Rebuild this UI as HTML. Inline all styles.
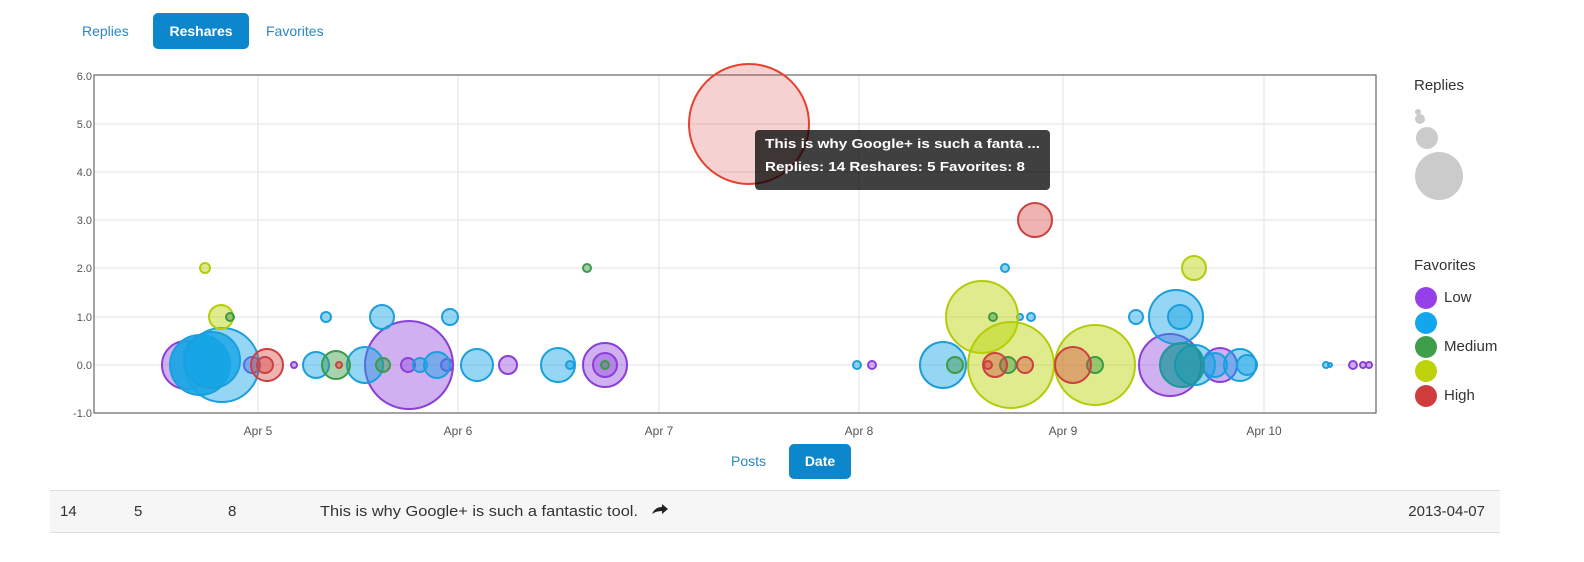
<!DOCTYPE html>
<html><head><meta charset="utf-8"><style>
html,body{margin:0;padding:0;background:#fff;width:1584px;height:562px;overflow:hidden}
svg{display:block;font-family:"Liberation Sans",Arial,sans-serif}
</style></head><body>
<svg width="1584" height="562" viewBox="0 0 1584 562" xmlns="http://www.w3.org/2000/svg">
<text x="82" y="36" font-size="14" fill="#2a86c4">Replies</text>
<rect x="153" y="13" width="96" height="36" rx="5" fill="#0d87cc"/>
<text x="201" y="36" font-size="14" font-weight="bold" fill="#fff" text-anchor="middle">Reshares</text>
<text x="266" y="36" font-size="14" fill="#2a86c4">Favorites</text>
<g stroke="#e2e2e2" stroke-width="1">
<line x1="94" y1="124" x2="1376" y2="124"/><line x1="94" y1="172" x2="1376" y2="172"/>
<line x1="94" y1="220" x2="1376" y2="220"/><line x1="94" y1="268" x2="1376" y2="268"/>
<line x1="94" y1="317" x2="1376" y2="317"/><line x1="94" y1="365" x2="1376" y2="365"/>
<line x1="258" y1="75" x2="258" y2="413"/><line x1="458" y1="75" x2="458" y2="413"/>
<line x1="659" y1="75" x2="659" y2="413"/><line x1="859" y1="75" x2="859" y2="413"/>
<line x1="1063" y1="75" x2="1063" y2="413"/><line x1="1264" y1="75" x2="1264" y2="413"/>
</g>
<rect x="94" y="75" width="1282" height="338" fill="none" stroke="#666" stroke-width="1.2"/>
<g font-size="11" fill="#555" text-anchor="end">
<text x="92" y="80">6.0</text><text x="92" y="128">5.0</text><text x="92" y="176">4.0</text>
<text x="92" y="224">3.0</text><text x="92" y="272">2.0</text><text x="92" y="321">1.0</text>
<text x="92" y="369">0.0</text><text x="92" y="417">-1.0</text>
</g>
<g font-size="12" fill="#555" text-anchor="middle">
<text x="258" y="435">Apr 5</text><text x="458" y="435">Apr 6</text><text x="659" y="435">Apr 7</text>
<text x="859" y="435">Apr 8</text><text x="1063" y="435">Apr 9</text><text x="1264" y="435">Apr 10</text>
</g>
<g stroke-width="2">
<g fill="rgba(150,80,225,0.45)" stroke="#8a3fd8">
<circle cx="186" cy="365" r="24"/><circle cx="252" cy="365" r="8"/><circle cx="294" cy="365" r="3"/>
<circle cx="409" cy="365" r="44"/><circle cx="408" cy="365" r="7"/><circle cx="447" cy="365" r="6"/>
<circle cx="508" cy="365" r="9"/><circle cx="605" cy="365" r="22"/><circle cx="605" cy="365" r="12"/>
<circle cx="872" cy="365" r="4"/><circle cx="1170" cy="365" r="31"/><circle cx="1220" cy="365" r="17"/>
<circle cx="1353" cy="365" r="4"/><circle cx="1363" cy="365" r="3"/><circle cx="1369" cy="365" r="3"/>
</g>
<g fill="rgba(20,165,230,0.45)" stroke="#1a9fdc">
<circle cx="222" cy="365" r="37"/><circle cx="200" cy="365" r="30" fill="rgba(20,165,230,0.9)"/>
<circle cx="212" cy="360" r="28" fill="rgba(20,165,230,0.8)"/>
<circle cx="316" cy="365" r="13"/><circle cx="326" cy="317" r="5"/><circle cx="365" cy="365" r="18"/>
<circle cx="382" cy="317" r="12"/><circle cx="420" cy="365" r="7"/><circle cx="437" cy="365" r="13"/>
<circle cx="450" cy="317" r="8"/><circle cx="477" cy="365" r="16"/><circle cx="558" cy="365" r="17"/>
<circle cx="570" cy="365" r="4"/><circle cx="857" cy="365" r="4"/><circle cx="943" cy="365" r="23"/>
<circle cx="1005" cy="268" r="4"/><circle cx="1020" cy="317" r="3"/><circle cx="1031" cy="317" r="4"/>
<circle cx="1136" cy="317" r="7"/><circle cx="1176" cy="317" r="27"/><circle cx="1180" cy="317" r="12"/>
<circle cx="1195" cy="365" r="20"/><circle cx="1215" cy="365" r="12"/><circle cx="1240" cy="365" r="16"/>
<circle cx="1247" cy="365" r="10"/><circle cx="1326" cy="365" r="3"/><circle cx="1330" cy="365" r="2"/>
</g>
<g fill="rgba(185,210,0,0.45)" stroke="#b3cc0a">
<circle cx="205" cy="268" r="5"/><circle cx="221" cy="317" r="12"/>
<circle cx="982" cy="317" r="36"/><circle cx="1011" cy="365" r="43"/><circle cx="1095" cy="365" r="40"/>
<circle cx="1194" cy="268" r="12"/>
</g>
<g fill="rgba(60,155,70,0.45)" stroke="#3c9a48">
<circle cx="230" cy="317" r="4"/><circle cx="336" cy="365" r="14"/><circle cx="383" cy="365" r="7"/>
<circle cx="587" cy="268" r="4"/><circle cx="605" cy="365" r="4"/><circle cx="955" cy="365" r="8"/>
<circle cx="993" cy="317" r="4"/><circle cx="1008" cy="365" r="8"/><circle cx="1095" cy="365" r="8"/>
<circle cx="1182" cy="365" r="22" fill="rgba(20,150,150,0.7)" stroke="#1b9a9a"/>
</g>
<g fill="rgba(215,65,60,0.4)" stroke="#cc4040">
<circle cx="267" cy="365" r="16"/><circle cx="265" cy="365" r="8"/><circle cx="339" cy="365" r="3"/>
<circle cx="995" cy="365" r="12"/><circle cx="1025" cy="365" r="8"/><circle cx="1073" cy="365" r="18"/>
<circle cx="1035" cy="220" r="17"/><circle cx="988" cy="365" r="4"/>
</g>
<circle cx="749" cy="124" r="60" fill="rgba(215,70,70,0.25)" stroke="#e8402e" stroke-width="2"/>
</g>
<rect x="755" y="130" width="295" height="60" rx="4" fill="rgba(0,0,0,0.75)"/>
<text x="765" y="148" font-size="13" font-weight="bold" fill="#fff" textLength="275" lengthAdjust="spacingAndGlyphs">This is why Google+ is such a fanta ...</text>
<text x="765" y="171" font-size="13" font-weight="bold" fill="#fff" textLength="260" lengthAdjust="spacingAndGlyphs">Replies: 14 Reshares: 5 Favorites: 8</text>
<text x="1414" y="90" font-size="15" fill="#333">Replies</text>
<g fill="#cbcbcb">
<circle cx="1418" cy="112" r="3"/><circle cx="1420" cy="119" r="5"/><circle cx="1427" cy="138" r="11"/><circle cx="1439" cy="176" r="24"/>
</g>
<text x="1414" y="270" font-size="15" fill="#333">Favorites</text>
<circle cx="1426" cy="298" r="11" fill="#9640ea"/>
<circle cx="1426" cy="323" r="11" fill="#12a7ec"/>
<circle cx="1426" cy="347" r="11" fill="#3e9e4a"/>
<circle cx="1426" cy="371" r="11" fill="#bdd20a"/>
<circle cx="1426" cy="396" r="11" fill="#d03c3c"/>
<text x="1444" y="302" font-size="15" fill="#333">Low</text>
<text x="1444" y="351" font-size="15" fill="#333">Medium</text>
<text x="1444" y="400" font-size="15" fill="#333">High</text>
<text x="731" y="466" font-size="14" fill="#2a86c4">Posts</text>
<rect x="789" y="444" width="62" height="35" rx="5" fill="#0d87cc"/>
<text x="820" y="466" font-size="14" font-weight="bold" fill="#fff" text-anchor="middle">Date</text>
<rect x="50" y="490" width="1450" height="42" fill="#f6f6f6"/>
<line x1="50" y1="490.5" x2="1500" y2="490.5" stroke="#ddd"/>
<line x1="50" y1="532.5" x2="1500" y2="532.5" stroke="#ddd"/>
<g font-size="15" fill="#333">
<text x="60" y="516">14</text><text x="134" y="516">5</text><text x="228" y="516">8</text>
<text x="320" y="516" textLength="318" lengthAdjust="spacingAndGlyphs">This is why Google+ is such a fantastic tool.</text>
<text x="1485" y="516" text-anchor="end">2013-04-07</text>
</g>
<path d="M652 514 q3 -7 10 -7 v-3 l6 5 l-6 5 v-3 q-6 0 -10 3z" fill="#222"/>
</svg>
</body></html>
